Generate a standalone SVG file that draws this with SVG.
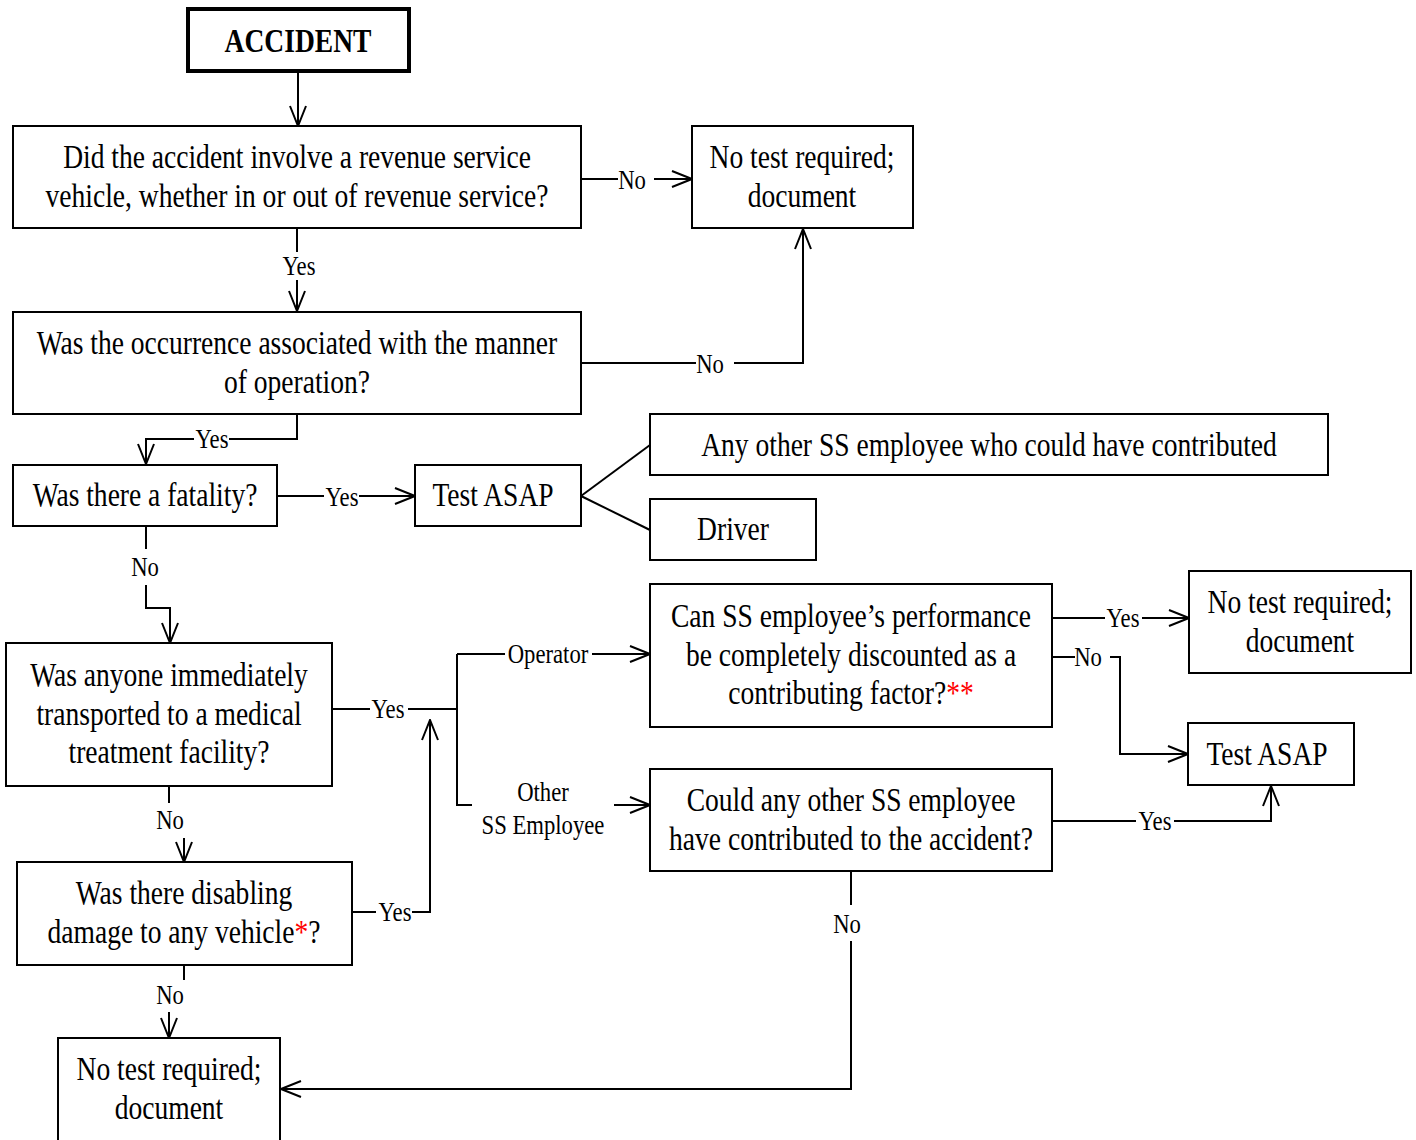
<svg xmlns="http://www.w3.org/2000/svg" width="1416" height="1140" viewBox="0 0 1416 1140">
<style>
.box{fill:#fff;stroke:#000;stroke-width:2}
.bold{fill:#fff;stroke:#000;stroke-width:4}
.t{font-family:"Liberation Serif","Times New Roman",serif;font-size:34px;fill:#000;text-anchor:middle}
.tb{font-family:"Liberation Serif","Times New Roman",serif;font-size:34px;font-weight:bold;fill:#000;text-anchor:middle}
.l{font-family:"Liberation Serif","Times New Roman",serif;font-size:28px;fill:#000;text-anchor:middle}
.c{fill:none;stroke:#000;stroke-width:2}
.bg{fill:#fff;stroke:none}
.red{fill:#ff0000}
</style>
<defs>
<marker id="ah" viewBox="0 0 22 18" refX="21" refY="9" markerWidth="22" markerHeight="18" markerUnits="userSpaceOnUse" orient="auto">
<path d="M1,1 L21,9 L1,17" fill="none" stroke="#000" stroke-width="2"/>
</marker>
</defs>
<rect width="1416" height="1140" fill="#fff"/>

<g id="connectors">
<path class="c" d="M298,71 V126" marker-end="url(#ah)"/>
<path class="c" d="M581,179 H692" marker-end="url(#ah)"/>
<path class="c" d="M297,228 V311" marker-end="url(#ah)"/>
<path class="c" d="M581,363 H803 V229" marker-end="url(#ah)"/>
<path class="c" d="M297,414 V439 H146 V464" marker-end="url(#ah)"/>
<path class="c" d="M277,496 H415" marker-end="url(#ah)"/>
<path class="c" d="M581,496 L650,445"/>
<path class="c" d="M581,496 L650,530"/>
<path class="c" d="M146,526 V608 H170 V643" marker-end="url(#ah)"/>
<path class="c" d="M332,709 H457"/>
<path class="c" d="M457,654 V805 H472"/>
<path class="c" d="M457,654 H650" marker-end="url(#ah)"/>
<path class="c" d="M614,805 H650" marker-end="url(#ah)"/>
<path class="c" d="M352,912 H430 V720" marker-end="url(#ah)"/>
<path class="c" d="M169,786 V803"/>
<path class="c" d="M184,838 V862" marker-end="url(#ah)"/>
<path class="c" d="M184,965 V980"/>
<path class="c" d="M169,1012 V1038" marker-end="url(#ah)"/>
<path class="c" d="M1052,618 H1189" marker-end="url(#ah)"/>
<path class="c" d="M1052,657 H1075"/>
<path class="c" d="M1110,657 H1120 V754 H1188" marker-end="url(#ah)"/>
<path class="c" d="M1052,821 H1271 V786" marker-end="url(#ah)"/>
<path class="c" d="M851,871 V1089 H281" marker-end="url(#ah)"/>

<rect class="bg" x="618" y="166" width="36" height="28"/>
<text class="l" transform="matrix(0.81 0 0 1 632 189)">No</text>
<rect class="bg" x="282" y="252" width="32" height="28"/>
<text class="l" transform="matrix(0.81 0 0 1 299 275)">Yes</text>
<rect class="bg" x="696" y="350" width="38" height="28"/>
<text class="l" transform="matrix(0.81 0 0 1 710 373)">No</text>
<rect class="bg" x="194" y="426" width="35" height="28"/>
<text class="l" transform="matrix(0.81 0 0 1 212 448)">Yes</text>
<rect class="bg" x="324" y="483" width="35" height="28"/>
<text class="l" transform="matrix(0.81 0 0 1 342 506)">Yes</text>
<rect class="bg" x="130" y="549" width="32" height="36"/>
<text class="l" transform="matrix(0.81 0 0 1 145 576)">No</text>
<rect class="bg" x="370" y="696" width="38" height="28"/>
<text class="l" transform="matrix(0.81 0 0 1 388 718)">Yes</text>
<rect class="bg" x="505" y="641" width="87" height="28"/>
<text class="l" transform="matrix(0.81 0 0 1 548 663)">Operator</text>
<text class="l" transform="matrix(0.81 0 0 1 543 801)">Other</text>
<text class="l" transform="matrix(0.81 0 0 1 543 834)">SS Employee</text>
<rect class="bg" x="376" y="899" width="36" height="28"/>
<text class="l" transform="matrix(0.81 0 0 1 395 921)">Yes</text>
<text class="l" transform="matrix(0.81 0 0 1 170 829)">No</text>
<text class="l" transform="matrix(0.81 0 0 1 170 1004)">No</text>
<rect class="bg" x="1105" y="605" width="37" height="28"/>
<text class="l" transform="matrix(0.81 0 0 1 1123 627)">Yes</text>
<text class="l" transform="matrix(0.81 0 0 1 1088 666)">No</text>
<rect class="bg" x="1136" y="808" width="38" height="28"/>
<text class="l" transform="matrix(0.81 0 0 1 1155 830)">Yes</text>
<rect class="bg" x="832" y="905" width="32" height="36"/>
<text class="l" transform="matrix(0.81 0 0 1 847 933)">No</text>
</g>

<g id="accident">
<rect class="bold" x="188" y="9" width="221" height="62"/>
<text class="tb" transform="matrix(0.81 0 0 1 298 52)">ACCIDENT</text>
</g>
<g id="q-revenue">
<rect class="box" x="13" y="126" width="568" height="102"/>
<text class="t" transform="matrix(0.81 0 0 1 297 168)">Did the accident involve a revenue service</text>
<text class="t" transform="matrix(0.81 0 0 1 297 207)">vehicle, whether in or out of revenue service?</text>
</g>
<g id="no-test-1">
<rect class="box" x="692" y="126" width="221" height="102"/>
<text class="t" transform="matrix(0.81 0 0 1 802 168)">No test required;</text>
<text class="t" transform="matrix(0.81 0 0 1 802 207)">document</text>
</g>
<g id="q-manner">
<rect class="box" x="13" y="312" width="568" height="102"/>
<text class="t" transform="matrix(0.81 0 0 1 297 354)">Was the occurrence associated with the manner</text>
<text class="t" transform="matrix(0.81 0 0 1 297 393)">of operation?</text>
</g>
<g id="q-fatality">
<rect class="box" x="13" y="465" width="264" height="61"/>
<text class="t" transform="matrix(0.81 0 0 1 145 506)">Was there a fatality?</text>
</g>
<g id="test-asap-1">
<rect class="box" x="415" y="465" width="166" height="61"/>
<text class="t" transform="matrix(0.81 0 0 1 493 506)">Test ASAP</text>
</g>
<g id="any-other">
<rect class="box" x="650" y="414" width="678" height="61"/>
<text class="t" transform="matrix(0.81 0 0 1 989 456)">Any other SS employee who could have contributed</text>
</g>
<g id="driver">
<rect class="box" x="650" y="499" width="166" height="61"/>
<text class="t" transform="matrix(0.81 0 0 1 733 540)">Driver</text>
</g>
<g id="q-transported">
<rect class="box" x="6" y="643" width="326" height="143"/>
<text class="t" transform="matrix(0.81 0 0 1 169 686)">Was anyone immediately</text>
<text class="t" transform="matrix(0.81 0 0 1 169 725)">transported to a medical</text>
<text class="t" transform="matrix(0.81 0 0 1 169 763)">treatment facility?</text>
</g>
<g id="q-damage">
<rect class="box" x="17" y="862" width="335" height="103"/>
<text class="t" transform="matrix(0.81 0 0 1 184 904)">Was there disabling</text>
<text class="t" transform="matrix(0.81 0 0 1 184 943)">damage to any vehicle<tspan class="red">*</tspan>?</text>
</g>
<g id="no-test-3">
<rect class="box" x="58" y="1038" width="222" height="104"/>
<text class="t" transform="matrix(0.81 0 0 1 169 1080)">No test required;</text>
<text class="t" transform="matrix(0.81 0 0 1 169 1119)">document</text>
</g>
<g id="q-discounted">
<rect class="box" x="650" y="584" width="402" height="143"/>
<text class="t" transform="matrix(0.81 0 0 1 851 627)">Can SS employee’s performance</text>
<text class="t" transform="matrix(0.81 0 0 1 851 666)">be completely discounted as a</text>
<text class="t" transform="matrix(0.81 0 0 1 851 704)">contributing factor?<tspan class="red">**</tspan></text>
</g>
<g id="q-other-contrib">
<rect class="box" x="650" y="769" width="402" height="102"/>
<text class="t" transform="matrix(0.81 0 0 1 851 811)">Could any other SS employee</text>
<text class="t" transform="matrix(0.81 0 0 1 851 850)">have contributed to the accident?</text>
</g>
<g id="no-test-2">
<rect class="box" x="1189" y="571" width="222" height="102"/>
<text class="t" transform="matrix(0.81 0 0 1 1300 613)">No test required;</text>
<text class="t" transform="matrix(0.81 0 0 1 1300 652)">document</text>
</g>
<g id="test-asap-2">
<rect class="box" x="1188" y="723" width="166" height="62"/>
<text class="t" transform="matrix(0.81 0 0 1 1267 765)">Test ASAP</text>
</g>
</svg>
